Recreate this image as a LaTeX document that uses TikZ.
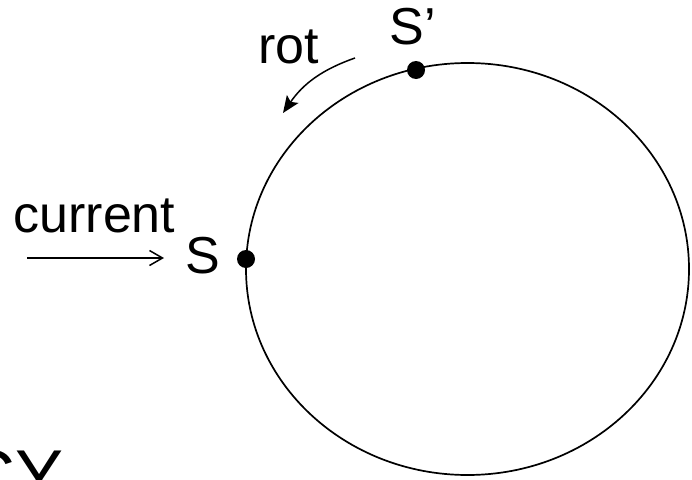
\documentclass[tikz,border=0pt]{standalone}
\usepackage{fontspec}
\setmainfont{Liberation Sans}
\usetikzlibrary{arrows.meta}
\begin{document}
\begin{tikzpicture}[x=1pt,y=-1pt,
  lbl/.style={anchor=base west,inner sep=0pt,outer sep=0pt,font=\fontsize{52}{60}\selectfont},
  dot/.style={circle,fill=black,inner sep=0pt,minimum size=18pt},
  conn/.style={line width=1.5pt}]
\useasboundingbox (0,0) rectangle (692,479);
\clip (0,0) rectangle (692,479);
\draw[line width=1.7pt] (467.5,269) ellipse [x radius=221.5, y radius=206];
\node[dot] (S) at (246,259) {};
\node[dot] (Sp) at (416,70) {};
\node[lbl] (cur) at (13.5,232.7) {current};
\node[lbl] (Slbl) at (185.6,273) {S};
\node[lbl] (rot) at (258.6,63) {rot};
\node[lbl] (Splbl) at (389.6,44) {S’};
\node[anchor=base west,inner sep=0pt,font=\fontsize{72}{80}\selectfont] (cy) at (-37,500) {CY};
\coordinate (c1) at (27,258);
\coordinate (c2) at (164,258);
\draw[conn,-{Straight Barb[length=13pt,width=15pt,line width=1.5pt]}] (c1) -- (c2);
\coordinate (r1) at (355,58);
\coordinate (r2) at (283,113);
\draw[conn,-{Stealth[length=17pt,width=14pt,inset=3.5pt]}] (r1) to[bend right=18] (r2);
\end{tikzpicture}
\end{document}
